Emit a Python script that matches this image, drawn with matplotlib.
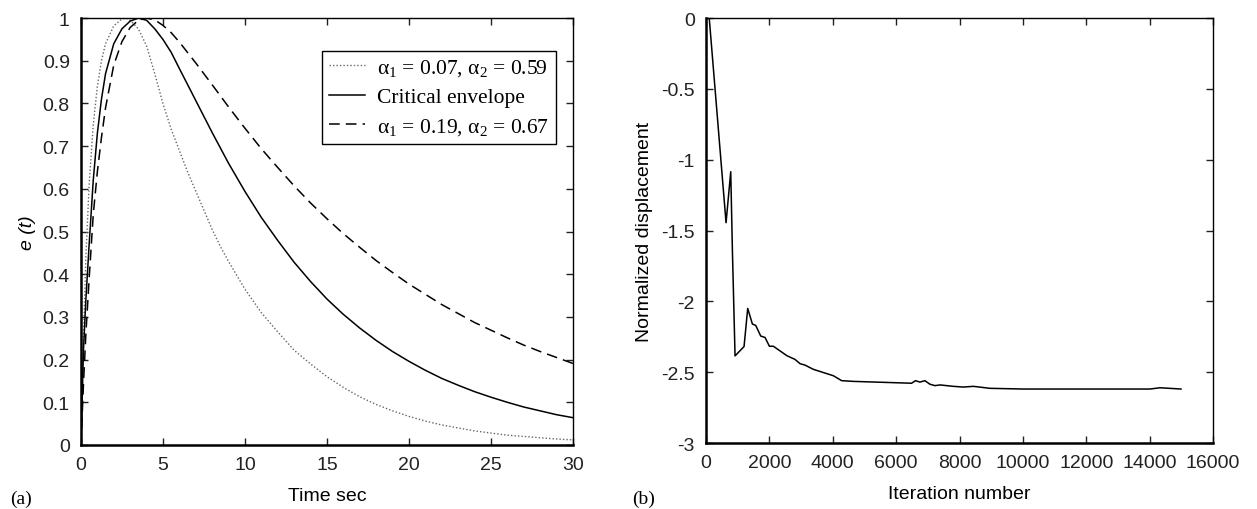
import matplotlib
matplotlib.use("Agg")
from matplotlib import pyplot as plt

plt.rcParams['font.family'] = ['Liberation Sans', 'DejaVu Sans']
plt.rcParams['mathtext.fontset'] = 'custom'
plt.rcParams['mathtext.rm'] = 'Liberation Serif'
plt.rcParams['mathtext.it'] = 'Liberation Serif:italic'

# (a) envelope curves
t_dot = [0, 0.15, 0.3, 0.5, 0.75, 1.0, 1.25, 1.5, 2.0, 2.5, 2.75, 3.0, 3.5, 4.0, 4.5,
         5.0, 5.5, 6.0, 6.5, 7.0, 7.5, 8.0, 8.5, 9, 10, 11, 12, 13, 14, 15, 16, 17,
         18, 19, 20, 21, 22, 23, 24, 25, 26, 27, 28, 29, 30]
e_dot = [0, 0.25, 0.44, 0.61, 0.75, 0.84, 0.90, 0.94, 0.982, 0.998, 1.0, 0.995, 0.975,
         0.935, 0.87, 0.80, 0.74, 0.69, 0.64, 0.595, 0.55, 0.505, 0.465, 0.43, 0.365,
         0.31, 0.265, 0.222, 0.19, 0.16, 0.135, 0.113, 0.095, 0.08, 0.067, 0.056, 0.047,
         0.04, 0.033, 0.028, 0.023, 0.02, 0.017, 0.014, 0.012]

t_crit = [0, 0.15, 0.3, 0.5, 0.75, 1.0, 1.25, 1.5, 2.0, 2.5, 3.0, 3.5, 4.0, 4.5, 5.0,
          5.5, 6, 7, 8, 9, 10, 11, 12, 13, 14, 15, 16, 17, 18, 19, 20, 21, 22, 23, 24,
          25, 26, 27, 28, 29, 30]
e_crit = [0, 0.22, 0.34, 0.47, 0.62, 0.73, 0.81, 0.87, 0.94, 0.975, 0.993, 1.0, 0.995,
          0.975, 0.95, 0.92, 0.882, 0.807, 0.732, 0.660, 0.594, 0.533, 0.479, 0.428,
          0.383, 0.342, 0.306, 0.274, 0.245, 0.219, 0.196, 0.175, 0.156, 0.140, 0.125,
          0.112, 0.100, 0.089, 0.080, 0.071, 0.064]

t_dash = [0, 0.15, 0.3, 0.5, 0.75, 1.0, 1.25, 1.5, 2.0, 2.5, 3.0, 3.5, 4.0, 4.5, 5.0,
          5.5, 6, 7, 8, 9, 10, 11, 12, 13, 14, 15, 16, 17, 18, 19, 20, 21, 22, 23, 24,
          25, 26, 27, 28, 29, 30]
e_dash = [0, 0.14, 0.26, 0.39, 0.54, 0.64, 0.72, 0.79, 0.89, 0.945, 0.978, 0.995, 1.0,
          0.996, 0.983, 0.966, 0.944, 0.895, 0.844, 0.792, 0.742, 0.694, 0.650, 0.607,
          0.567, 0.530, 0.495, 0.463, 0.432, 0.404, 0.377, 0.353, 0.329, 0.308, 0.287,
          0.269, 0.251, 0.234, 0.219, 0.205, 0.191]

labels_a = [r'α$_1$ = 0.07, α$_2$ = 0.59', 'Critical envelope', r'α$_1$ = 0.19, α$_2$ = 0.67']
yticks_a = [0, 0.1, 0.2, 0.3, 0.4, 0.5, 0.6, 0.7, 0.8, 0.9, 1]
yticklabels_a = ['0', '0.1', '0.2', '0.3', '0.4', '0.5', '0.6', '0.7', '0.8', '0.9', '1']
xticks_a = [0, 5, 10, 15, 20, 25, 30]

# (b) normalized displacement vs iteration
iters = [100, 631, 779, 831, 915, 1199, 1315, 1462, 1568, 1725, 1862, 1999, 2125, 2546,
         2808, 2966, 3123, 3386, 4017, 4280, 4648, 6486, 6612, 6749, 6907, 7065, 7223,
         7384, 7805, 8121, 8436, 8962, 10015, 11593, 14012, 14327, 14990]
disp = [0, -1.445, -1.085, -1.635, -2.385, -2.319, -2.05, -2.16, -2.17, -2.245, -2.255,
        -2.317, -2.317, -2.383, -2.41, -2.44, -2.45, -2.48, -2.525, -2.56, -2.565, -2.578,
        -2.56, -2.57, -2.56, -2.585, -2.595, -2.59, -2.6, -2.605, -2.6, -2.614, -2.619,
        -2.619, -2.619, -2.61, -2.619]
yticks_b = [0, -0.5, -1, -1.5, -2, -2.5, -3]
yticklabels_b = ['0', '-0.5', '-1', '-1.5', '-2', '-2.5', '-3']
xticks_b = [0, 2000, 4000, 6000, 8000, 10000, 12000, 14000, 16000]

fig = plt.figure(figsize=(12.57, 5.10), dpi=100)
ax1 = fig.add_axes([0.0644, 0.1255, 0.3914, 0.837])
ax2 = fig.add_axes([0.5617, 0.1294, 0.4033, 0.8333])

ax1.plot(t_dot, e_dot, color='0.4', linestyle=(0, (1, 1.5)), lw=1.0, label=labels_a[0])
ax1.plot(t_crit, e_crit, color='black', lw=1.1, label=labels_a[1])
ax1.plot(t_dash, e_dash, color='black', linestyle=(0, (7, 4)), lw=1.1, label=labels_a[2])
ax1.set_xlim(0, 30)
ax1.set_ylim(0, 1)
ax1.set_xticks(xticks_a)
ax1.set_yticks(yticks_a)
ax1.set_yticklabels(yticklabels_a)
ax1.set_xlabel('Time sec', fontsize=14, labelpad=10)
ax1.set_ylabel('e (t)', fontsize=14, style='italic', labelpad=5)
leg = ax1.legend(loc='upper right', bbox_to_anchor=(0.965, 0.923), borderaxespad=0,
                 fancybox=False, edgecolor='black', framealpha=1, handlelength=1.7,
                 handletextpad=0.55, borderpad=0.3, labelspacing=0.42,
                 prop={'family': 'Liberation Serif', 'size': 15.5})
leg.get_frame().set_linewidth(1.0)

ax2.plot(iters, disp, color='black', lw=1.1)
ax2.set_xlim(0, 16000)
ax2.set_ylim(-3, 0)
ax2.set_xticks(xticks_b)
ax2.set_yticks(yticks_b)
ax2.set_yticklabels(yticklabels_b)
ax2.set_xlabel('Iteration number', fontsize=14, labelpad=10)
ax2.set_ylabel('Normalized displacement', fontsize=14, labelpad=6)

for ax in (ax1, ax2):
    ax.tick_params(direction='in', length=5, width=1, top=True, right=True,
                   labelsize=14, pad=8, colors='#222222')
    for side in ('left', 'bottom'):
        ax.spines[side].set_linewidth(1.8)
    for side in ('top', 'right'):
        ax.spines[side].set_linewidth(1.0)

fig.text(0.008, 0.012, '(a)', fontsize=14, family='Liberation Serif')
fig.text(0.503, 0.012, '(b)', fontsize=14, family='Liberation Serif')

fig.savefig('out.png', dpi=100)
